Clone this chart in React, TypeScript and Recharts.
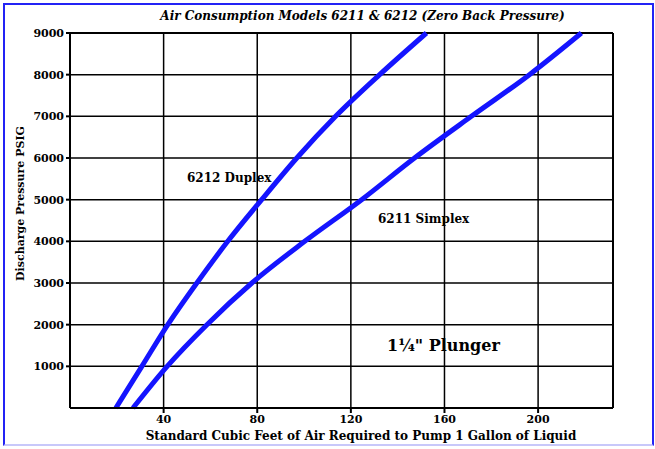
import { LineChart, Line, XAxis, YAxis, CartesianGrid, ReferenceLine, Label } from 'recharts';

// discharge pressure (PSIG) levels
const pressure = [0, 1000, 2000, 3000, 4000, 5000, 6000, 7000, 8000, 9000];
// cubic feet of air per gallon at each pressure
const duplexAir = [19.6, 30.7, 41.8, 54.2, 67.4, 81.9, 96.9, 113.5, 132.3, 152.3];
const simplexAir = [26.9, 41.5, 58.5, 77.7, 100.3, 124.6, 147.2, 171.5, 196.3, 218.5];

const xTicks = [40, 80, 120, 160, 200];
const yTicks = [1000, 2000, 3000, 4000, 5000, 6000, 7000, 8000, 9000];

const duplexData = pressure.map((p, i) => ({ air: duplexAir[i], psi: p }));
const simplexData = pressure.map((p, i) => ({ air: simplexAir[i], psi: p }));

const font = '"DejaVu Serif", "Liberation Serif", serif';
const tickStyle = { fontSize: 11, fontWeight: 700, fontFamily: font, fill: '#000' };
const noteStyle = { fontSize: 12, fontWeight: 700, fontFamily: font, fill: '#000' };

export default function App() {
  return (
    <div style={{ position: 'absolute', left: 0, top: 0, width: 655, height: 449, background: '#fff' }}>
      <div
        style={{
          position: 'absolute', left: 3, top: 3, width: 647, height: 439,
          borderTop: '2px solid #2323f5', borderLeft: '2px solid #2323f5',
          borderRight: '2px solid #2323f5', borderBottom: '2px solid #c8c8fa',
        }}
      />
      <div
        style={{
          position: 'absolute', left: 0, top: 9, width: 725, textAlign: 'center',
          fontFamily: font, fontWeight: 700, fontStyle: 'italic', fontSize: 12,
        }}
      >
        Air Consumption Models 6211 &amp; 6212 (Zero Back Pressure)
      </div>
      <div
        style={{
          position: 'absolute', left: 0, top: 429, width: 722, textAlign: 'center',
          fontFamily: font, fontWeight: 700, fontSize: 12, whiteSpace: 'nowrap',
        }}
      >
        Standard Cubic Feet of Air Required to Pump 1 Gallon of Liquid
      </div>
      <div style={{ position: 'absolute', left: 20, top: 205, width: 0, height: 0 }}>
        <div
          style={{
            position: 'absolute', left: -100, top: -8, width: 200, textAlign: 'center',
            transform: 'rotate(-90deg)', fontFamily: font, fontWeight: 700, fontSize: 11, whiteSpace: 'nowrap',
          }}
        >
          Discharge Pressure PSIG
        </div>
      </div>
      <LineChart
        width={655}
        height={449}
        margin={{ top: 33, right: 42, bottom: 5, left: 26 }}
        style={{ position: 'absolute', left: 0, top: 0 }}
      >
        <CartesianGrid stroke="#000" strokeWidth={1.5} horizontalValues={yTicks} verticalValues={xTicks} />
        <XAxis
          dataKey="air"
          type="number"
          domain={[0, 232]}
          ticks={xTicks}
          allowDataOverflow
          height={36}
          stroke="#000"
          strokeWidth={2}
          tickSize={5}
          tick={tickStyle}
        />
        <YAxis
          dataKey="psi"
          type="number"
          domain={[0, 9000]}
          ticks={yTicks}
          width={44}
          stroke="#000"
          strokeWidth={2}
          tickSize={4}
          tick={tickStyle}
        />
        <ReferenceLine x={232} stroke="#000" strokeWidth={2} />
        <ReferenceLine y={9000} stroke="#000" strokeWidth={2} />
        <Line data={duplexData} dataKey="psi" type="monotone" stroke="#1414ff" strokeWidth={5} dot={false} isAnimationActive={false} />
        <Line data={simplexData} dataKey="psi" type="monotone" stroke="#1414ff" strokeWidth={5} dot={false} isAnimationActive={false} />
        <ReferenceLine y={5520} stroke="none" ifOverflow="visible">
          <Label value="6212 Duplex" position="insideLeft" offset={117} style={noteStyle} />
        </ReferenceLine>
        <ReferenceLine y={4540} stroke="none" ifOverflow="visible">
          <Label value="6211 Simplex" position="insideLeft" offset={308} style={noteStyle} />
        </ReferenceLine>
        <ReferenceLine y={1510} stroke="none" ifOverflow="visible">
          <Label value={'1\u00BC" Plunger'} position="insideLeft" offset={317} style={{ ...noteStyle, fontSize: 16 }} />
        </ReferenceLine>
      </LineChart>
    </div>
  );
}
